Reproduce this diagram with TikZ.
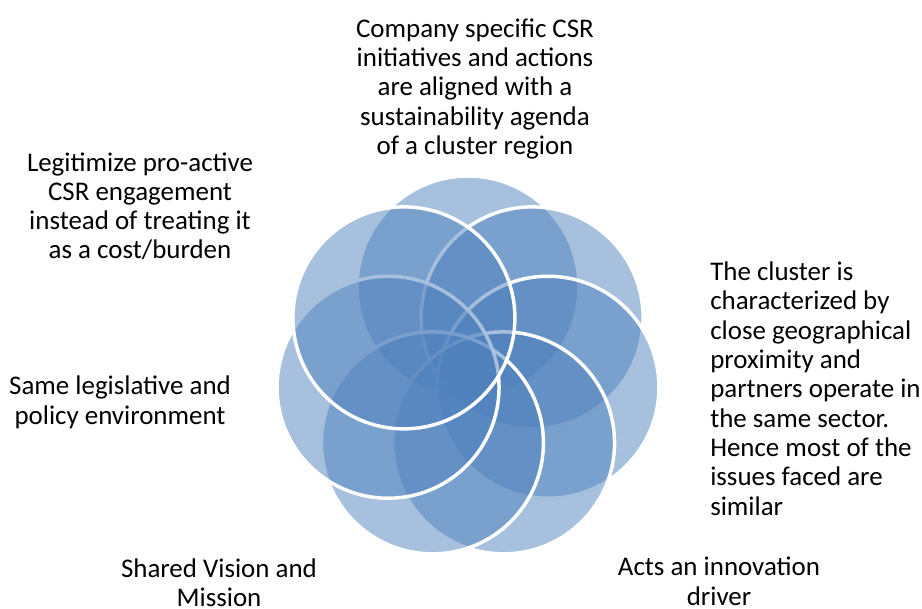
\documentclass[tikz,border=0pt]{standalone}
\usepackage{fontspec}
\setmainfont{Carlito}
\usepackage{xcolor}
\usepackage{tikz}
\definecolor{petal}{HTML}{4F81BD}
\tikzset{lbl/.style={font=\fontsize{20.2}{22}\selectfont, inner sep=0, anchor=base}}
\tikzset{ring/.style={fill=petal, fill opacity=.5, draw=white, line width=2.6pt}}

\begin{document}
\begin{tikzpicture}[x=.75pt, y=.75pt]
\useasboundingbox (0,0) rectangle (922,608);
\coordinate (hub) at (468,239);
% seven circles, clockwise from the top
\foreach \k [evaluate=\k as \a using 90-360/7*\k] in {0,1,...,6}
  \filldraw[ring] (hub) ++(\a:82) circle (111);
% labels, placed at the baseline of their last line
\node[lbl, align=center] (agenda) at (475,453.5) {Company specific CSR\\initiatives and actions\\are aligned with a\\sustainability agenda\\of a cluster region};
\node[lbl, align=left, anchor=base west] (proximity) at (710,92.7) {The cluster is\\characterized by\\close geographical\\proximity and\\partners operate in\\the same sector.\\Hence most of the\\issues faced are\\similar};
\node[lbl, align=center] (innovation) at (719,3) {Acts an innovation\\driver};
\node[lbl, align=center] (vision) at (219,1.3) {Shared Vision and\\Mission};
\node[lbl, align=center] (policy) at (120,184) {Same legislative and\\policy environment};
\node[lbl, align=center] (legitimize) at (140,349) {Legitimize pro-active\\CSR engagement\\instead of treating it\\as a cost/burden};
\end{tikzpicture}
\end{document}
